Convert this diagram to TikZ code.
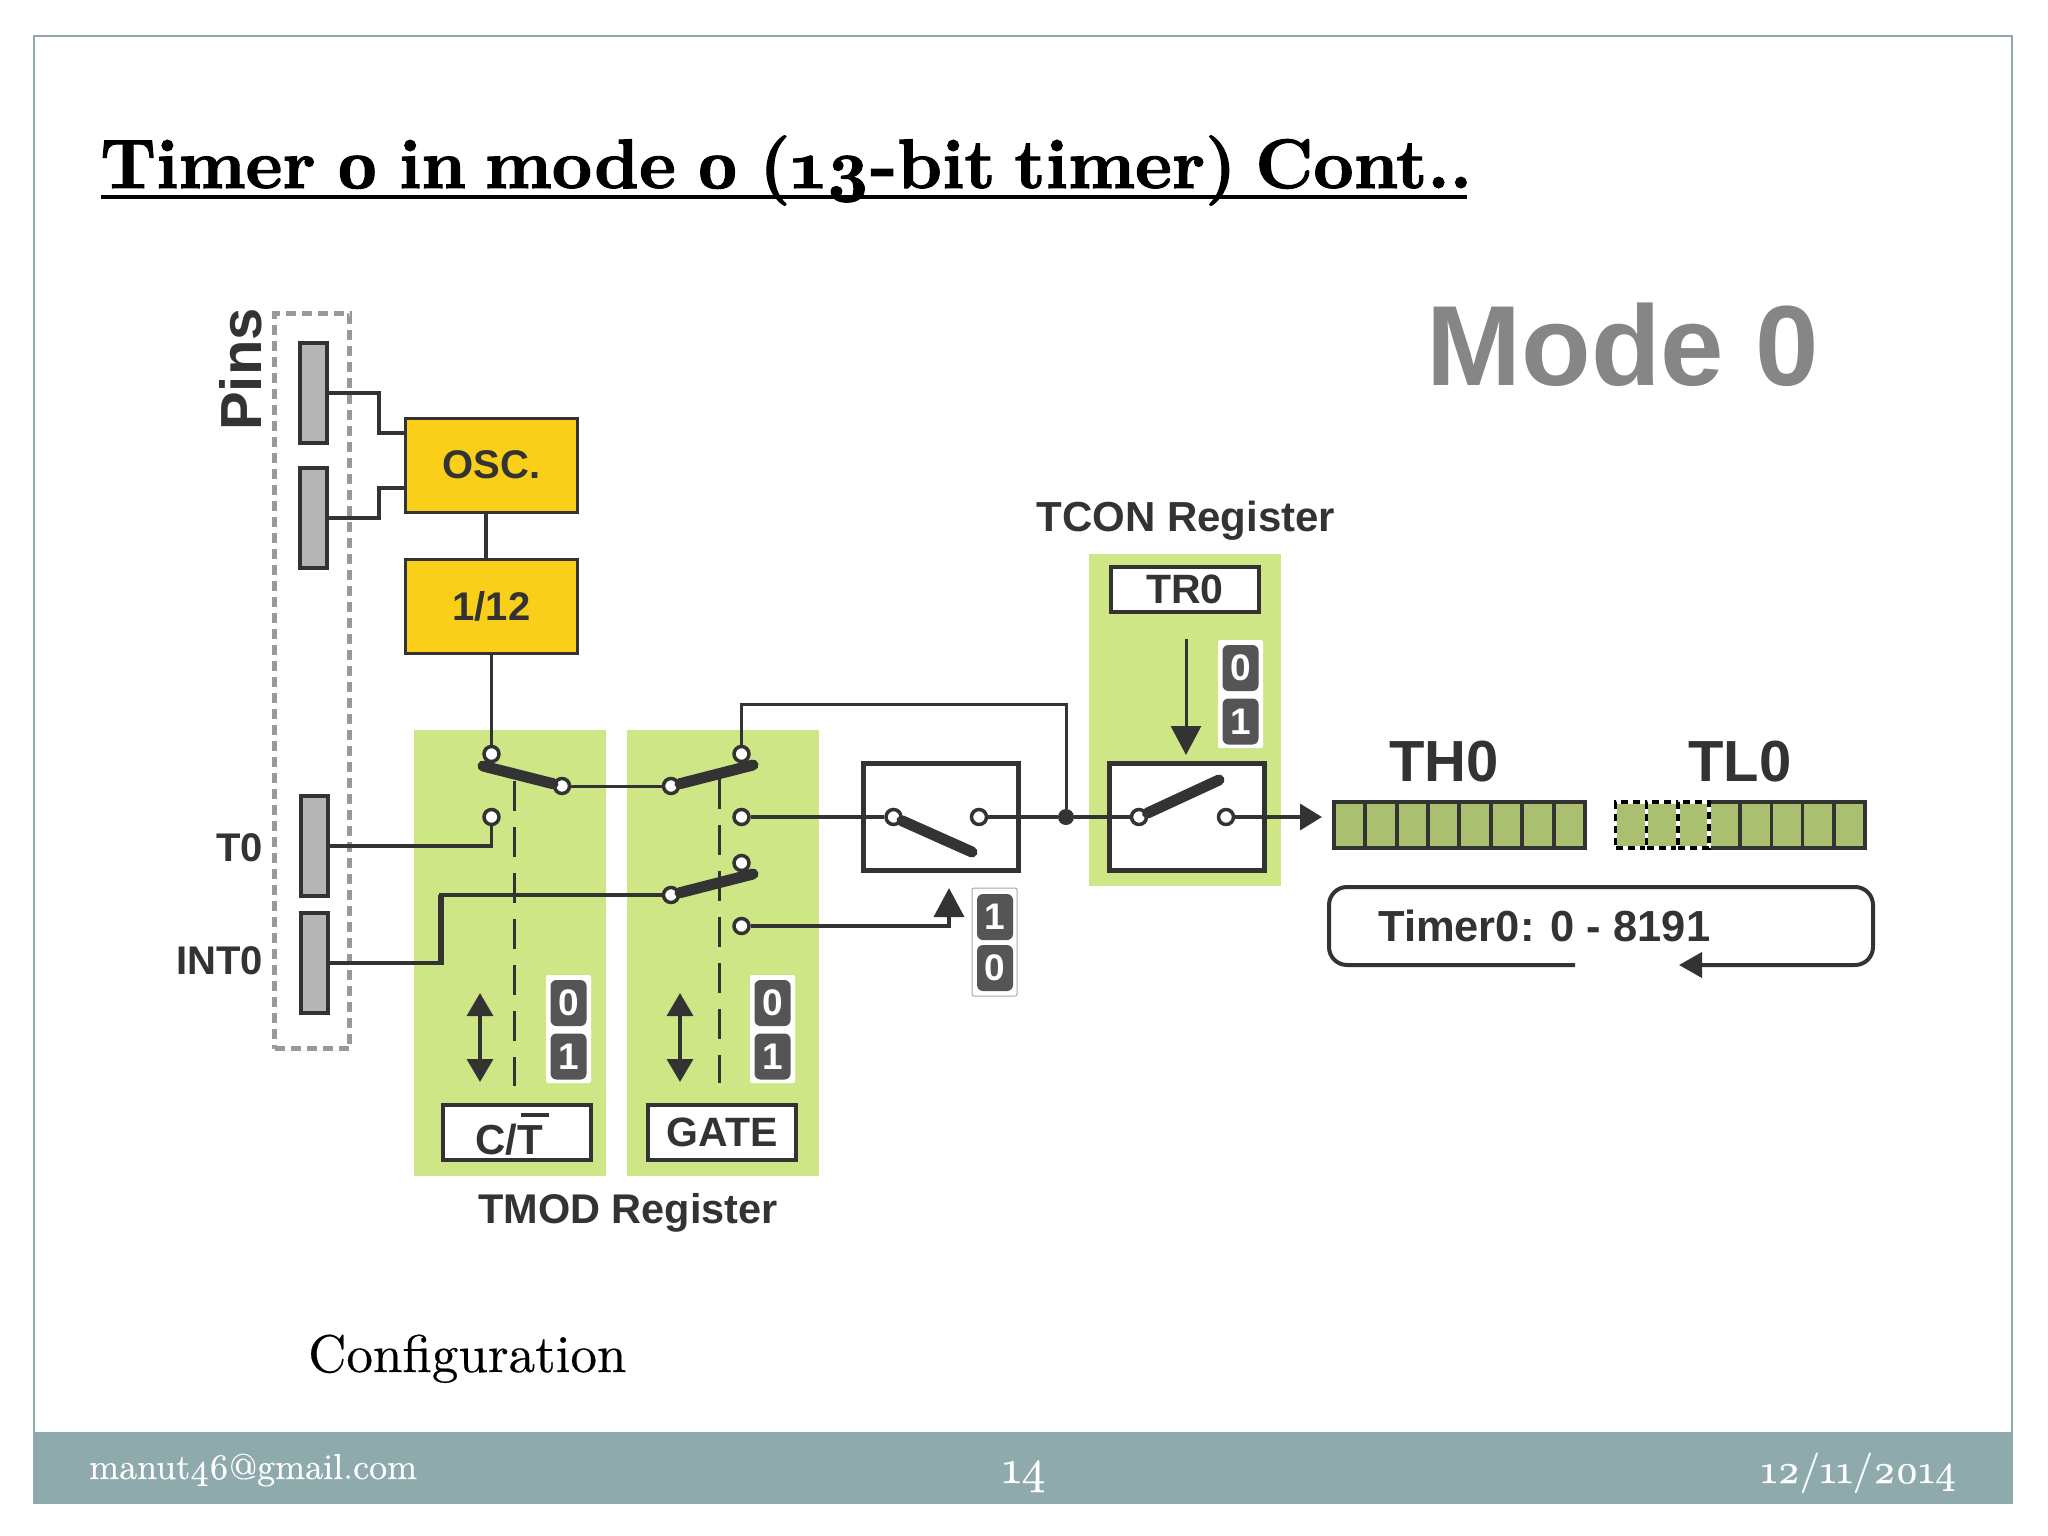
\documentclass[tikz,border=0pt]{standalone}
\usepackage{fontspec}
\setmainfont{lmroman10-regular.otf}[Numbers=OldStyle, WordSpace=0.7, FakeBold=0.4]
\newfontface\titlefont{lmroman10-bold.otf}[Numbers=OldStyle, WordSpace=0.7, FakeBold=1.5]
\setsansfont{Liberation Sans}
\usetikzlibrary{arrows.meta}

\definecolor{ink}{HTML}{333333}
\definecolor{slate}{HTML}{8EAAAD}
\definecolor{panelgreen}{HTML}{CFE687}
\definecolor{cellgreen}{HTML}{ABBF71}
\definecolor{oscyellow}{HTML}{F9CF1A}
\definecolor{pingray}{HTML}{B5B5B5}
\definecolor{chipgray}{HTML}{555555}

\newcommand{\fs}[1]{\fontsize{#1}{#1}\selectfont}

\begin{document}
\begin{tikzpicture}[
        x=1pt, y=-1pt,
        panel/.style={fill=panelgreen, anchor=north west, inner sep=0pt},
        pinbox/.style={draw=ink, fill=pingray, line width=4pt, inner sep=0pt, minimum width=27pt, minimum height=100pt},
        clockbox/.style={draw=ink, fill=oscyellow, line width=3pt, inner sep=0pt, minimum width=172pt, minimum height=94pt, font=\sffamily\bfseries\fs{40}, text=ink},
        regbox/.style={draw=ink, fill=white, line width=4pt, inner sep=0pt, minimum width=148pt, font=\sffamily\bfseries\fs{41}, text=ink},
        swbox/.style={draw=ink, fill=white, line width=5pt, inner sep=0pt, minimum width=155pt, minimum height=107pt},
        contact/.style={circle, draw=ink, fill=white, line width=3.5pt, inner sep=0pt, minimum size=15pt},
        wire/.style={draw=ink, line width=3.5pt},
        lever/.style={draw=ink, line width=11pt, line cap=round},
        dashwire/.style={draw=ink, line width=3pt, dash pattern=on 30pt off 16pt},
        bighead/.style={-{Stealth[length=29pt,width=30pt,inset=0pt]}},
        twohead/.style={{Stealth[length=23pt,width=26pt,inset=0pt]}-{Stealth[length=23pt,width=26pt,inset=0pt]}},
        chipback/.style={fill=white, rounded corners=2pt, inner sep=0pt, minimum width=45pt, minimum height=108pt},
        chip/.style={fill=chipgray, rounded corners=6pt, inner sep=0pt, minimum width=36pt, minimum height=46pt, text=white, font=\sffamily\bfseries\fs{37}},
        label/.style={inner sep=0pt, text=ink, font=\sffamily\bfseries\fs{42}},
        regcell/.style={draw=ink, fill=cellgreen, line width=3.5pt, inner sep=0pt, minimum width=31pt, minimum height=46pt}
    ]
    \useasboundingbox (0,0) rectangle (2048,1536);

    % slide frame and footer
    \node[draw=slate, line width=2pt, anchor=north west, inner sep=0pt, minimum width=1978pt, minimum height=1467pt] (frame) at (33,35) {};
    \node[fill=slate, anchor=north west, inner sep=0pt, minimum width=1979pt, minimum height=70pt] (band) at (33,1432) {};
    \node[anchor=base west, inner sep=0pt, text=white, font=\fs{36}] (mail) at (89,1479) {manut46@gmail.com};
    \node[anchor=base, inner sep=0pt, text=white, font=\fs{47}] (pageno) at (1024,1483) {14};
    \node[anchor=base east, inner sep=0pt, text=white, font=\fs{40.5}] (date) at (1956,1483) {12/11/2014};

    \node[anchor=base west, inner sep=0pt, font=\titlefont\fs{70}] (title) at (100,188) {Timer 0 in mode 0 (13-bit timer) Cont..};
    \draw[line width=4.5pt] (101,197) -- (1467,197);
    \node[anchor=base west, inner sep=0pt, font=\fs{53}] (config) at (308,1372) {Configuration};

    % pins
    \node[draw=gray!80, line width=5pt, dash pattern=on 10pt off 6pt, anchor=north west, inner sep=0pt, minimum width=75pt, minimum height=735pt] (pinarea) at (272,311) {};
    \node[pinbox] (pinx) at (313,393) {};
    \node[pinbox] (piny) at (313,518) {};
    \node[pinbox] (pint) at (314,846) {};
    \node[pinbox] (pini) at (314,963) {};
    \node[label, rotate=90, anchor=base west, font=\sffamily\bfseries\fs{58}] (pins) at (261,431) {Pins};
    \node[label, anchor=base east, font=\sffamily\bfseries\fs{40}] (tzero) at (263,861) {T0};
    \node[label, anchor=base east, font=\sffamily\bfseries\fs{40}] (izero) at (263,974) {INT0};

    % clock
    \node[clockbox, anchor=north west] (osc) at (404,416.5) {OSC.};
    \node[clockbox, anchor=north west] (div) at (404,557.5) {1/12};
    \coordinate (oscupper) at (406,433);
    \coordinate (osclower) at (406,488);
    \draw[wire] (pinx.east) -| (379,433) -- (oscupper);
    \draw[wire] (piny.east) -| (379,488) -- (osclower);
    \draw[wire] (486,512) -- (486,559);

    % registers
    \node[panel, minimum width=192pt, minimum height=446pt] (panelct) at (414,730) {};
    \node[panel, minimum width=192pt, minimum height=446pt] (panelgate) at (627,730) {};
    \node[panel, minimum width=192pt, minimum height=332pt] (paneltr) at (1089,554) {};
    \node[regbox, minimum height=55pt, anchor=north west] (ctbox) at (441,1102.5) {};
    \node[label] (cttext) at (509,1140) {C/T};
    \draw[line width=3.5pt, draw=ink] (520.5,1115) -- (549,1115);
    \node[regbox, minimum height=55pt, anchor=north west] (gatebox) at (646,1102.5) {GATE};
    \node[regbox, minimum height=45pt, anchor=north west] (trbox) at (1109,565) {TR0};
    \node[label, font=\sffamily\bfseries\fs{41.5}] (tmod) at (628,1213) {TMOD Register};
    \node[label] (tcon) at (1186,521) {TCON Register};

    % change-over switches
    \node[contact] (cttop) at (491.5,754) {};
    \node[contact] (ctout) at (562,786) {};
    \node[contact] (ctlow) at (491.5,817) {};
    \node[contact] (gatein) at (671,786) {};
    \node[contact] (gatetop) at (741.5,754) {};
    \node[contact] (gatelow) at (741.5,817) {};
    \node[contact] (intin) at (671,895) {};
    \node[contact] (inttop) at (741.5,863) {};
    \node[contact] (intlow) at (741.5,926) {};

    \coordinate (ctarm) at (483,766);
    \coordinate (gatearm) at (753,765);
    \coordinate (intarm) at (753,874);
    \draw[lever] (ctarm) -- (ctout);
    \draw[lever] (gatein) -- (gatearm);
    \draw[lever] (intin) -- (intarm);

    \draw[dashwire] (514,781) -- (514,1086);
    \draw[dashwire] (719,779) -- (719,1083);
    \draw[wire, line width=3pt] (div.south -| cttop) -- (cttop);
    \draw[wire, line width=3pt] (ctout) -- (gatein);
    \draw[wire] (pint.east) -| (ctlow);
    \coordinate (intbend) at (441,895);
    \draw[wire] (pini.east) -| (intbend) -- (intin);
    \draw[draw=ink, line width=6pt] (441,965) -- (intbend);

    % gate and run switches
    \node[swbox, anchor=north west] (gatesw) at (861,761) {};
    \node[swbox, anchor=north west] (runsw) at (1107,761) {};
    \node[contact] (gatesel) at (893.5,817) {};
    \node[contact] (gateoff) at (979,817) {};
    \node[contact] (runin) at (1139,817) {};
    \node[contact] (runout) at (1226,817) {};
    \node[circle, fill=ink, inner sep=0pt, minimum size=16pt] (join) at (1066,817) {};
    \coordinate (gatesw arm) at (972,852);
    \coordinate (runsw arm) at (1219,780);
    \draw[lever] (gatesel) -- (gatesw arm);
    \draw[lever] (runin) -- (runsw arm);

    \coordinate (topbend) at (1066,704);
    \coordinate (modetip) at (949,888);
    \coordinate (trtail) at (1186,639);
    \coordinate (trtip) at (1186,755);
    \coordinate (thin) at (1322,817);
    \draw[wire, line width=3pt] (gatetop) |- (topbend) -- (join);
    \draw[wire] (gatelow) -- (gatesel);
    \draw[wire] (gateoff) -- (join) -- (runin);
    \draw[wire, -{Stealth[length=22pt,width=26pt,inset=0pt]}] (runout) -- (thin);
    \draw[wire, bighead] (intlow) -| (modetip);
    \draw[wire, line width=3pt, bighead] (trtail) -- (trtip);

    \coordinate (cthi) at (480,993);
    \coordinate (ctlo) at (480,1082);
    \coordinate (gatehi) at (680,993);
    \coordinate (gatelo) at (680,1082);
    \draw[wire, twohead] (cthi) -- (ctlo);
    \draw[wire, twohead] (gatehi) -- (gatelo);

    % 0/1 chips
    \node[chipback] (ctchips) at (568.5,1029) {};
    \node[chip] (ctzero) at (568.5,1003) {0};
    \node[chip] (ctone) at (568.5,1056.5) {1};
    \node[chipback] (gatechips) at (772.5,1029) {};
    \node[chip] (gatezero) at (772.5,1003) {0};
    \node[chip] (gateone) at (772.5,1056.5) {1};
    \node[chipback] (trchips) at (1240.5,694) {};
    \node[chip] (trzero) at (1240.5,668) {0};
    \node[chip] (trone) at (1240.5,721.5) {1};
    \node[chipback, draw=gray!70, line width=1pt] (modechips) at (994.5,942) {};
    \node[chip] (modeone) at (995,917) {1};
    \node[chip] (modezero) at (995,968) {0};

    % counter
    \node[label, anchor=base, font=\fs{114}\sffamily\bfseries, text=gray!95] (mode) at (1623,385) {Mode 0};
    \node[label, anchor=base, font=\sffamily\bfseries\fs{58}] (thname) at (1444,781) {TH0};
    \node[label, anchor=base, font=\sffamily\bfseries\fs{58}] (tlname) at (1740,781) {TL0};
    \foreach \i in {0,...,7} {
        \node[regcell] (th\i) at ({1349.5+31.4*\i},825) {};
    }
    \foreach \i in {3,...,7} {
        \node[regcell] (tl\i) at ({1631+31.2*\i},825) {};
    }
    \foreach \i in {0,1,2} {
        \node[regcell, draw=white] (tl\i) at ({1631+31.2*\i},825) {};
        \node[regcell, fill=none, draw=black, dash pattern=on 7pt off 5pt] (tld\i) at ({1631+31.2*\i},825) {};
    }

    \coordinate (loopstart) at (1575,965);
    \coordinate (loopbl) at (1329,965);
    \coordinate (looptl) at (1329,887);
    \coordinate (looptr) at (1873,887);
    \coordinate (loopbr) at (1873,965);
    \coordinate (looptip) at (1679,965);
    \draw[wire, line width=4pt, rounded corners=18pt, -{Stealth[length=23pt,width=25pt,inset=0pt]}] (loopstart) -- (loopbl) -- (looptl) -- (looptr) -- (loopbr) -- (looptip);
    \node[label, anchor=base west, font=\sffamily\bfseries\fs{43.5}] (range) at (1378,941) {Timer0: 0 - 8191};

\end{tikzpicture}
\end{document}
